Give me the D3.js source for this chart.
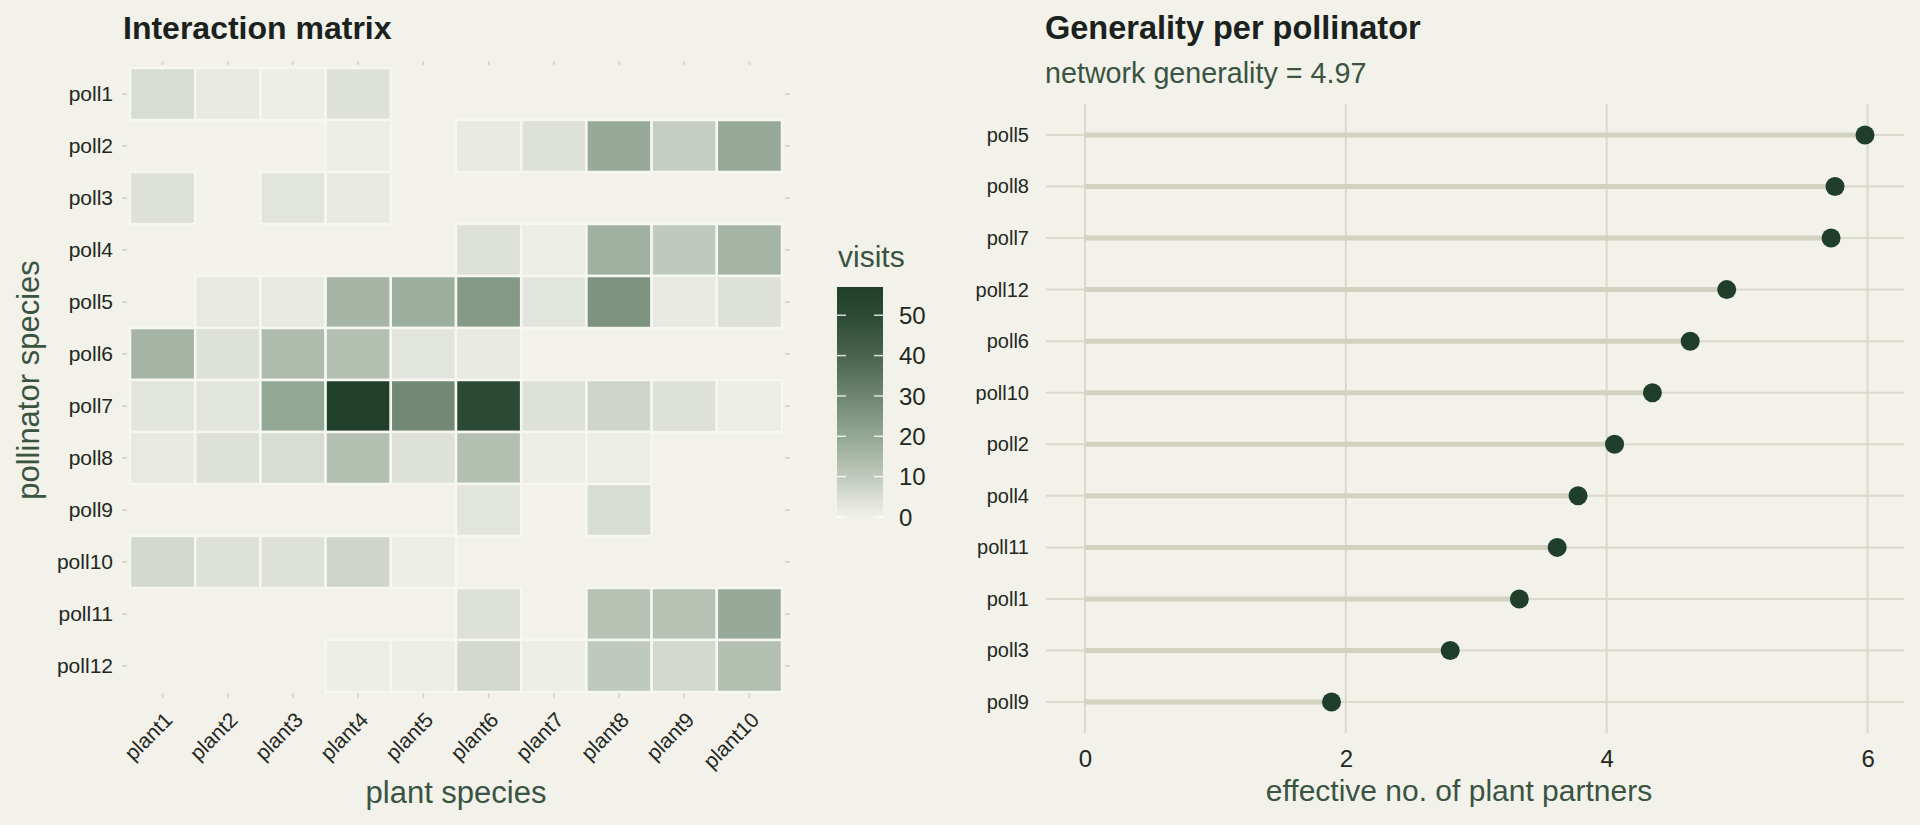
<!DOCTYPE html>
<html>
<head>
<meta charset="utf-8">
<script src="https://cdn.jsdelivr.net/npm/d3@7"></script>
<style>
  html, body { margin: 0; padding: 0; background: #f2f1ea; }
  svg text { font-family: "Liberation Sans", Arial, sans-serif; }
</style>
</head>
<body>
<div id="canvas"></div>
<script>
"use strict";

/* ---------- data ---------- */
let plants = ["plant1", "plant2", "plant3", "plant4", "plant5",
              "plant6", "plant7", "plant8", "plant9", "plant10"];
let pollinators = ["poll1", "poll2", "poll3", "poll4", "poll5", "poll6",
                   "poll7", "poll8", "poll9", "poll10", "poll11", "poll12"];

// visits, one row per pollinator, one column per plant
let poll1Visits  = [5, 2, 1, 4, 0, 0, 0, 0, 0, 0];
let poll2Visits  = [0, 0, 0, 1, 0, 2, 4, 19, 9, 19];
let poll3Visits  = [4, 0, 3, 2, 0, 0, 0, 0, 0, 0];
let poll4Visits  = [0, 0, 0, 0, 0, 4, 1, 17, 10, 16];
let poll5Visits  = [0, 2, 2, 16, 18, 24, 3, 26, 2, 4];
let poll6Visits  = [16, 4, 14, 13, 3, 2, 0, 0, 0, 0];
let poll7Visits  = [3, 3, 20, 57, 29, 50, 4, 7, 4, 1];
let poll8Visits  = [2, 4, 5, 13, 4, 13, 1, 1, 0, 0];
let poll9Visits  = [0, 0, 0, 0, 0, 3, 0, 5, 0, 0];
let poll10Visits = [6, 4, 4, 7, 1, 0, 0, 0, 0, 0];
let poll11Visits = [0, 0, 0, 0, 0, 4, 0, 12, 12, 19];
let poll12Visits = [0, 0, 0, 1, 1, 6, 1, 10, 6, 13];

let visitRows = [poll1Visits, poll2Visits, poll3Visits, poll4Visits,
                 poll5Visits, poll6Visits, poll7Visits, poll8Visits,
                 poll9Visits, poll10Visits, poll11Visits, poll12Visits];

// generality per pollinator (sorted as shown)
let genPollinators = ["poll5", "poll8", "poll7", "poll12", "poll6", "poll10",
                      "poll2", "poll4", "poll11", "poll1", "poll3", "poll9"];
let genValues = [5.98, 5.75, 5.72, 4.92, 4.64, 4.35,
                 4.06, 3.78, 3.62, 3.33, 2.80, 1.89];
let networkGenerality = 4.97;

let legendTicks = [0, 10, 20, 30, 40, 50];
let genTicks = [0, 2, 4, 6];

/* ---------- setup ---------- */
let svgWidth = 1920;
let svgHeight = 825;

let titleColor = "#1b211c";
let axisTitleColor = "#3a5441";
let tickColor = "#22281f";
let darkGreen = "#1f3f2c";

let svg = d3.select("#canvas")
    .append("svg")
    .attr("width", svgWidth)
    .attr("height", svgHeight);

svg.append("rect")
    .attr("width", svgWidth)
    .attr("height", svgHeight)
    .attr("fill", "#f2f1ea");

/* ---------- heatmap ---------- */
let cells = [];
pollinators.forEach(function(p, i) {
    plants.forEach(function(pl, j) {
        cells.push({poll: p, plant: pl, visits: visitRows[i][j]});
    });
});

let maxVisits = d3.max(cells, d => d.visits);

let hx = d3.scaleBand().domain(plants).range([130, 782]);
let hy = d3.scaleBand().domain(pollinators).range([68, 692]);

// colours
let colorStops = [0, 10, 20, 30, 40, 50, maxVisits];
let color = d3.scaleLinear()
    .domain(colorStops)
    .range(["#f1f1eb", "#c0c9bd", "#93a795", "#6e8672", "#4a6450", "#2b4a36", "#20402c"])
    .interpolate(d3.interpolateLab);

svg.append("text")
    .attr("x", 123)
    .attr("y", 39)
    .attr("font-size", 32)
    .attr("font-weight", "bold")
    .attr("fill", titleColor)
    .text("Interaction matrix");

svg.append("g")
    .selectAll("rect")
    .data(cells.filter(d => d.visits > 0))
    .join("rect")
    .attr("x", d => hx(d.plant))
    .attr("y", d => hy(d.poll))
    .attr("width", hx.bandwidth())
    .attr("height", hy.bandwidth())
    .attr("fill", d => color(d.visits))
    .attr("stroke", "#f7f7f2")
    .attr("stroke-width", 2.5);

// small ticks on all four sides
let tickStroke = "#d2d3c4";
svg.append("g").selectAll("line")
    .data(plants)
    .join("line")
    .attr("x1", d => hx(d) + hx.bandwidth() / 2)
    .attr("x2", d => hx(d) + hx.bandwidth() / 2)
    .attr("y1", 61).attr("y2", 65)
    .attr("stroke", tickStroke).attr("stroke-width", 1.5);
svg.append("g").selectAll("line")
    .data(plants)
    .join("line")
    .attr("x1", d => hx(d) + hx.bandwidth() / 2)
    .attr("x2", d => hx(d) + hx.bandwidth() / 2)
    .attr("y1", 693).attr("y2", 698)
    .attr("stroke", tickStroke).attr("stroke-width", 1.5);
svg.append("g").selectAll("line")
    .data(pollinators)
    .join("line")
    .attr("x1", 122).attr("x2", 127)
    .attr("y1", d => hy(d) + hy.bandwidth() / 2)
    .attr("y2", d => hy(d) + hy.bandwidth() / 2)
    .attr("stroke", tickStroke).attr("stroke-width", 1.5);
svg.append("g").selectAll("line")
    .data(pollinators)
    .join("line")
    .attr("x1", 785).attr("x2", 790)
    .attr("y1", d => hy(d) + hy.bandwidth() / 2)
    .attr("y2", d => hy(d) + hy.bandwidth() / 2)
    .attr("stroke", tickStroke).attr("stroke-width", 1.5);

// y labels
svg.append("g").selectAll("text")
    .data(pollinators)
    .join("text")
    .attr("x", 113)
    .attr("y", d => hy(d) + hy.bandwidth() / 2)
    .attr("dy", "0.35em")
    .attr("text-anchor", "end")
    .attr("font-size", 21)
    .attr("fill", tickColor)
    .text(d => d);

// x labels, rotated
svg.append("g").selectAll("text")
    .data(plants)
    .join("text")
    .attr("transform", d => "translate(" + (hx(d) + hx.bandwidth() / 2 + 6) + ",716) rotate(-45)")
    .attr("dy", "0.35em")
    .attr("text-anchor", "end")
    .attr("font-size", 21)
    .attr("fill", tickColor)
    .text(d => d);

svg.append("text")
    .attr("x", (130 + 782) / 2)
    .attr("y", 803)
    .attr("text-anchor", "middle")
    .attr("font-size", 31)
    .attr("fill", axisTitleColor)
    .text("plant species");

svg.append("text")
    .attr("transform", "translate(39," + (68 + 692) / 2 + ") rotate(-90)")
    .attr("text-anchor", "middle")
    .attr("font-size", 31)
    .attr("fill", axisTitleColor)
    .text("pollinator species");

/* ---------- colour legend ---------- */
let legX = 837, legW = 46;
let legScale = d3.scaleLinear().domain([0, maxVisits]).range([517, 287]);

let grad = svg.append("defs").append("linearGradient")
    .attr("id", "visitsGrad")
    .attr("x1", 0).attr("y1", 1).attr("x2", 0).attr("y2", 0);
d3.range(0, 21).forEach(function(k) {
    let v = maxVisits * k / 20;
    grad.append("stop")
        .attr("offset", (k / 20 * 100) + "%")
        .attr("stop-color", color(v));
});

svg.append("text")
    .attr("x", 838)
    .attr("y", 267)
    .attr("font-size", 30)
    .attr("fill", axisTitleColor)
    .text("visits");

svg.append("rect")
    .attr("x", legX)
    .attr("y", legScale(maxVisits))
    .attr("width", legW)
    .attr("height", legScale(0) - legScale(maxVisits))
    .attr("fill", "url(#visitsGrad)");

legendTicks.forEach(function(t) {
    let y = legScale(t);
    svg.append("line")
        .attr("x1", legX).attr("x2", legX + 9)
        .attr("y1", y).attr("y2", y)
        .attr("stroke", "#ffffff").attr("stroke-width", 1.5).attr("opacity", 0.8);
    svg.append("line")
        .attr("x1", legX + legW - 9).attr("x2", legX + legW)
        .attr("y1", y).attr("y2", y)
        .attr("stroke", "#ffffff").attr("stroke-width", 1.5).attr("opacity", 0.8);
    svg.append("text")
        .attr("x", 899)
        .attr("y", y)
        .attr("dy", "0.36em")
        .attr("font-size", 24)
        .attr("fill", tickColor)
        .text(t);
});

/* ---------- lollipop ---------- */
let gx = d3.scaleLinear()
    .domain([0 - 0.05 * d3.max(genValues), d3.max(genValues) * 1.05])
    .range([1046, 1904]);
let gy = d3.scalePoint()
    .domain(genPollinators)
    .range([104, 733])
    .padding(0.6);

svg.append("text")
    .attr("x", 1045)
    .attr("y", 39)
    .attr("font-size", 32.5)
    .attr("font-weight", "bold")
    .attr("fill", titleColor)
    .text("Generality per pollinator");

svg.append("text")
    .attr("x", 1045)
    .attr("y", 83)
    .attr("font-size", 28.7)
    .attr("fill", axisTitleColor)
    .text("network generality = " + networkGenerality.toFixed(2));

let gridColor = "#d9dacb";

// vertical grid
svg.append("g").selectAll("line")
    .data(genTicks)
    .join("line")
    .attr("x1", d => gx(d)).attr("x2", d => gx(d))
    .attr("y1", 104).attr("y2", 733)
    .attr("stroke", gridColor).attr("stroke-width", 2);

// horizontal grid
svg.append("g").selectAll("line")
    .data(genPollinators)
    .join("line")
    .attr("x1", 1046).attr("x2", 1904)
    .attr("y1", d => gy(d)).attr("y2", d => gy(d))
    .attr("stroke", gridColor).attr("stroke-width", 2);

let genData = genPollinators.map((p, i) => ({poll: p, value: genValues[i]}));

svg.append("g").selectAll("line")
    .data(genData)
    .join("line")
    .attr("x1", gx(0)).attr("x2", d => gx(d.value))
    .attr("y1", d => gy(d.poll)).attr("y2", d => gy(d.poll))
    .attr("stroke", "#d1d2c0").attr("stroke-width", 5);

svg.append("g").selectAll("circle")
    .data(genData)
    .join("circle")
    .attr("cx", d => gx(d.value))
    .attr("cy", d => gy(d.poll))
    .attr("r", 9.5)
    .attr("fill", darkGreen);

// axes labels via d3 axes
let yAxis = svg.append("g")
    .attr("transform", "translate(1046,0)")
    .call(d3.axisLeft(gy).tickSize(0).tickPadding(17));
yAxis.select(".domain").remove();
yAxis.selectAll("text")
    .attr("font-size", 20)
    .attr("font-family", "Liberation Sans, Arial, sans-serif")
    .attr("fill", tickColor);

let xAxis = svg.append("g")
    .attr("transform", "translate(0,733)")
    .call(d3.axisBottom(gx).tickValues(genTicks).tickFormat(d3.format("d"))
        .tickSize(0).tickPadding(17));
xAxis.select(".domain").remove();
xAxis.selectAll("text")
    .attr("font-size", 24)
    .attr("font-family", "Liberation Sans, Arial, sans-serif")
    .attr("fill", tickColor);

svg.append("text")
    .attr("x", 1459)
    .attr("y", 801)
    .attr("text-anchor", "middle")
    .attr("font-size", 30)
    .attr("fill", axisTitleColor)
    .text("effective no. of plant partners");
</script>
</body>
</html>
